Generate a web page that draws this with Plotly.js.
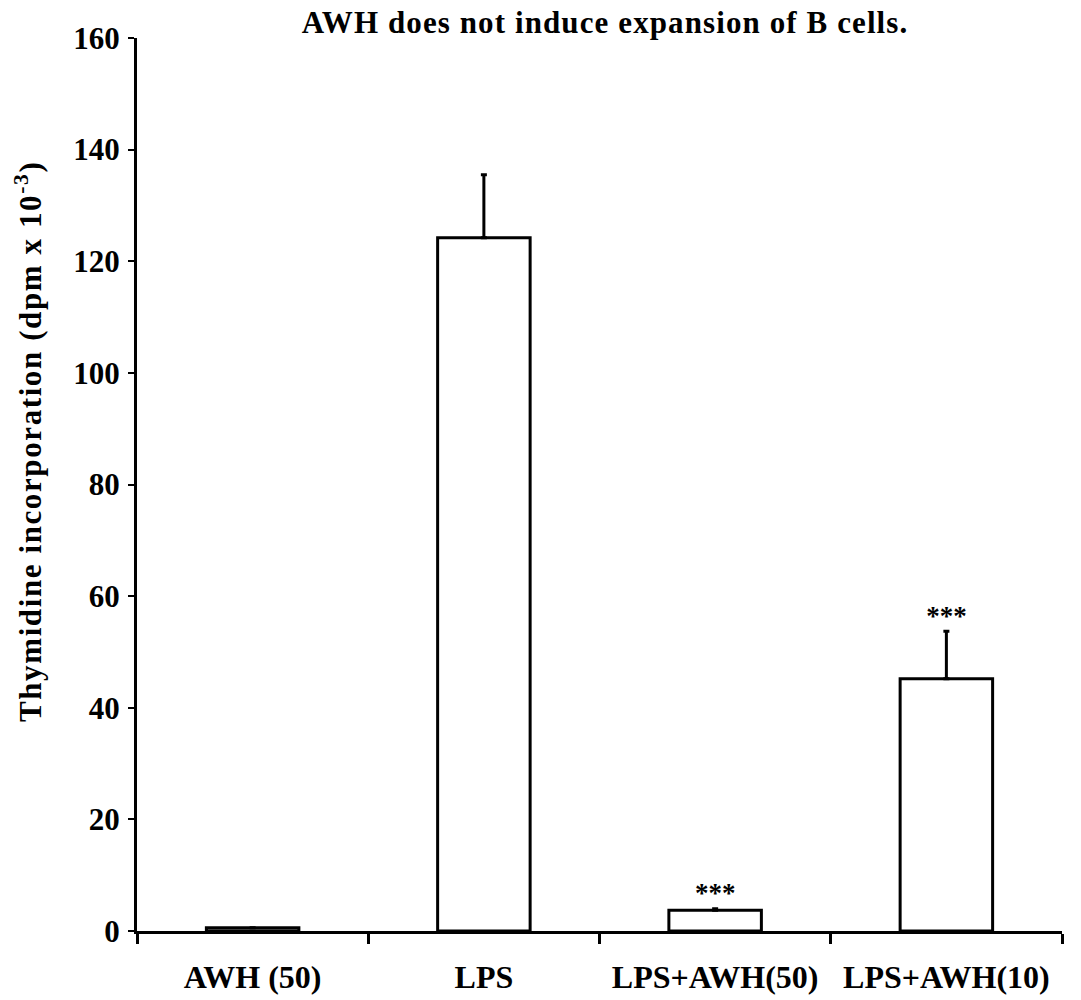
<!DOCTYPE html>
<html>
<head>
<meta charset="utf-8">
<script src="https://cdn.plot.ly/plotly-3.0.1.min.js"></script>
<style>
html,body{margin:0;padding:0;background:#fff;}
#chart{width:1081px;height:1000px;}
.gtitle{letter-spacing:1.1px;}
.annotation-text{letter-spacing:1.6px;}
</style>
</head>
<body>
<div id="chart"></div>
<script>
const categories = ["AWH (50)", "LPS", "LPS+AWH(50)", "LPS+AWH(10)"];
const means = [0.6, 124.2, 3.7, 45.2];
const errors = [0, 11.3, 0.3, 8.5];
const stars = ["", "", "***", "***"];
const yTicks = [0, 20, 40, 60, 80, 100, 120, 140, 160];

const font = "Liberation Serif, Times New Roman, serif";

const bars = {
  type: "bar",
  x: categories,
  y: means,
  width: 0.4,
  marker: {color: "#ffffff", line: {color: "#000000", width: 3}},
  error_y: {type: "data", array: errors, arrayminus: errors.map(() => 0), symmetric: false,
            color: "#000000", thickness: 3, width: 3, visible: true},
  hoverinfo: "skip",
  showlegend: false
};

// only categories with a significance mark get a text point
const starIdx = stars.map((s, i) => s ? i : -1).filter(i => i >= 0);
const starTrace = {
  type: "scatter",
  mode: "text",
  x: starIdx.map(i => categories[i]),
  y: starIdx.map(i => means[i] + errors[i]),
  text: starIdx.map(i => stars[i]),
  textposition: "top center",
  textfont: {family: font, size: 27, color: "#000", weight: "bold"},
  hoverinfo: "skip",
  showlegend: false,
  cliponaxis: false
};

const layout = {
  width: 1081,
  height: 1000,
  paper_bgcolor: "#ffffff",
  plot_bgcolor: "#ffffff",
  margin: {l: 137, r: 19, t: 38, b: 69},
  font: {family: font, color: "#000"},
  title: {text: "<b>AWH does not induce expansion of B cells.</b>", font: {family: font, size: 31, color: "#000"},
          xref: "paper", x: 0.506, xanchor: "center", y: 0.978, yanchor: "middle"},
  xaxis: {
    type: "category",
    showline: true, linecolor: "#000", linewidth: 3,
    ticks: "outside", tickson: "boundaries", ticklen: 10, tickwidth: 3, tickcolor: "#000",
    tickfont: {family: font, size: 32, color: "#000", weight: "bold"},
    ticklabelstandoff: 16,
    showgrid: false, zeroline: false, fixedrange: true
  },
  yaxis: {
    range: [0, 160],
    tickvals: yTicks,
    ticktext: yTicks.map(String),
    showline: true, linecolor: "#000", linewidth: 3,
    ticks: "outside", ticklen: 6, tickwidth: 2, tickcolor: "#000",
    tickfont: {family: font, size: 31, color: "#000", weight: "bold"},
    ticklabelstandoff: 2,
    showgrid: false, zeroline: false
  },
  annotations: [{
    text: "<b>Thymidine incorporation (dpm x 10<sup>-3</sup>)</b>",
    textangle: -90,
    xref: "paper", yref: "paper",
    x: (28 - 137) / 925, y: (931 - 442) / 893,
    xanchor: "center", yanchor: "middle",
    showarrow: false,
    font: {family: font, size: 31, color: "#000"}
  }]
};

Plotly.newPlot("chart", [bars, starTrace], layout, {displayModeBar: false, staticPlot: true});
</script>
</body>
</html>
